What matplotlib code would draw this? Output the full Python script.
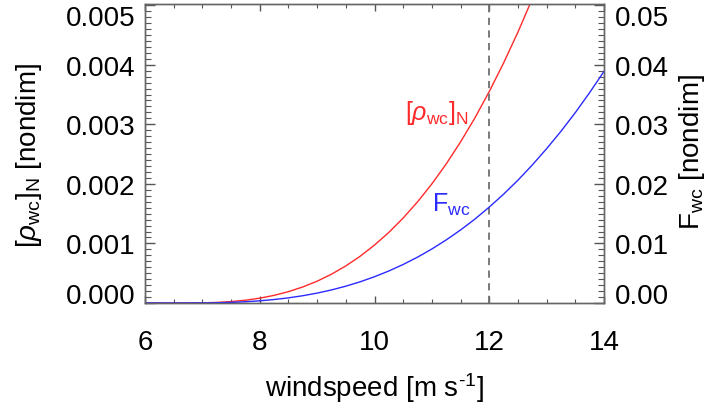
import matplotlib
matplotlib.use("Agg")
import matplotlib.pyplot as plt
import matplotlib.ticker as mticker
import numpy as np

plt.rcParams['font.family'] = ['Liberation Sans', 'DejaVu Sans']
plt.rcParams['mathtext.fontset'] = 'custom'
plt.rcParams['mathtext.rm'] = 'Liberation Sans'
plt.rcParams['mathtext.it'] = 'Liberation Sans:italic'
plt.rcParams['mathtext.bf'] = 'Liberation Sans:bold'

# values
windspeed = [6.00, 6.25, 6.50, 6.75, 7.00, 7.25, 7.50, 7.75, 8.00, 8.25, 8.50,
             8.75, 9.00, 9.25, 9.50, 9.75, 10.00, 10.25, 10.50, 10.75, 11.00,
             11.25, 11.50, 11.75, 12.00, 12.25, 12.50, 12.75, 13.00, 13.25,
             13.50, 13.75, 14.00]
rho_wc_n = [0.0, 0.0, 0.0, 0.0000002, 0.0000024, 0.0000095, 0.0000235,
            0.0000467, 0.0000810, 0.0001283, 0.0001905, 0.0002694, 0.000366,
            0.0004836, 0.0006225, 0.0007847, 0.0009727, 0.0011855, 0.001427,
            0.001698, 0.002000, 0.002335, 0.002704, 0.003108, 0.00355,
            0.004030, 0.004548, 0.005109, 0.005713, 0.006330, 0.00700,
            0.00780, 0.00860]
f_wc = [0.0, 0.0, 0.0, 0.000001, 0.000011, 0.000043, 0.000107, 0.000212,
        0.000367, 0.000582, 0.000864, 0.001221, 0.00166, 0.002193, 0.002823,
        0.003559, 0.004411, 0.005376, 0.006471, 0.00770, 0.00907, 0.01059,
        0.01226, 0.01409, 0.01610, 0.01827, 0.02062, 0.02317, 0.02591,
        0.02883, 0.03196, 0.03533, 0.03889]
u_ref = 12.0

xlim = (6, 14)
ylim_left = (0.0, 0.00502)
ylim_right = (0.0, 0.0502)

fs = 20

fig = plt.figure(figsize=(7.14, 4.10), dpi=100)
ax = fig.add_axes([145/714, 1-304/410, (604-145)/714, (304-5)/410])
ax2 = ax.twinx()

ax.plot(windspeed, rho_wc_n, color='#ff2a2a', lw=1.0)
ax2.plot(windspeed, f_wc, color='#2a2aff', lw=1.0)
ax.axvline(u_ref, color='#707070', lw=1.3, ls=(0, (4, 3)))

ax.set_xlim(xlim)
ax.set_ylim(ylim_left)
ax2.set_ylim(ylim_right)

ax.xaxis.set_major_locator(mticker.MultipleLocator(2))
ax.xaxis.set_minor_locator(mticker.MultipleLocator(0.5))
ax.yaxis.set_major_locator(mticker.MultipleLocator(0.001))
ax.yaxis.set_minor_locator(mticker.MultipleLocator(0.0001))
ax2.yaxis.set_major_locator(mticker.MultipleLocator(0.01))
ax2.yaxis.set_minor_locator(mticker.MultipleLocator(0.001))
ax.yaxis.set_major_formatter(mticker.FormatStrFormatter('%.3f'))
ax2.yaxis.set_major_formatter(mticker.FormatStrFormatter('%.2f'))
ax.xaxis.set_major_formatter(mticker.FormatStrFormatter('%d'))

tc = '#555555'
ax.tick_params(axis='x', which='both', direction='in', top=True, bottom=True,
               color=tc, labelsize=fs, pad=19)
ax.tick_params(axis='x', which='major', length=5, width=1)
ax.tick_params(axis='x', which='minor', length=3, width=0.8)
ax.tick_params(axis='y', which='both', direction='in', left=True, right=False,
               color=tc, labelsize=fs, pad=7)
ax.tick_params(axis='y', which='major', length=7, width=1)
ax.tick_params(axis='y', which='minor', length=4, width=0.8)
ax2.tick_params(axis='y', which='both', direction='in', right=True,
                color=tc, labelsize=fs, pad=8)
ax2.tick_params(axis='y', which='major', length=7, width=1)
ax2.tick_params(axis='y', which='minor', length=4, width=0.8)

for a in (ax, ax2):
    for s in a.spines.values():
        s.set_color('#666666')
        s.set_linewidth(1.0)

# IDL-like placement of the end labels: keep them inside the axis height
fig.canvas.draw()
for a, top in ((ax, 0.005), (ax2, 0.05)):
    for tick in a.yaxis.get_major_ticks():
        loc = tick.get_loc()
        if abs(loc) < top * 1e-3:
            va = 'baseline'
        elif abs(loc - top) < top * 1e-3:
            va = 'top'
        else:
            va = 'center_baseline'
        tick.label1.set_va(va)
        tick.label2.set_va(va)

ax.set_xlabel(r'windspeed [m s$^{\text{-1}}$]', fontsize=fs)
ax.xaxis.set_label_coords(374/714, 1-388/410, transform=fig.transFigure)
ax.xaxis.label.set_va('center')

ax.set_ylabel(r'[$\rho_{\rm wc}$]$_{\rm N}$ [nondim]', fontsize=fs)
ax.yaxis.set_label_coords(29/714, 1-155/410, transform=fig.transFigure)
ax.yaxis.label.set_va('center')
ax.yaxis.label.set_ha('center')

ax2.set_ylabel(r'F$_{\rm wc}$ [nondim]', fontsize=fs, rotation=90)
ax2.yaxis.set_label_coords(692/714, 1-152/410, transform=fig.transFigure)
ax2.yaxis.label.set_va('center')
ax2.yaxis.label.set_ha('center')

ax.text(437/714, 1-113/410, r'[$\rho_{\rm wc}$]$_{\rm N}$', color='#ff2a2a',
        fontsize=18, ha='center', va='center', transform=fig.transFigure)
ax.text(451/714, 1-205/410, r'F$_{\rm wc}$', color='#2a2aff',
        fontsize=18, ha='center', va='center', transform=fig.transFigure)

fig.savefig('out.png', dpi=100)
